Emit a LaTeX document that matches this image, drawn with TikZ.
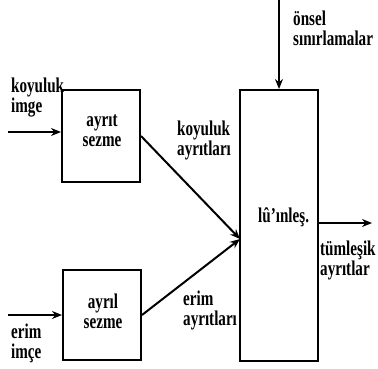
\documentclass[tikz,border=0pt]{standalone}
\usepackage{fontspec}
\setmainfont[FakeStretch=0.72,UprightFont=* Bold]{Liberation Serif}
\usetikzlibrary{arrows.meta}
\tikzset{
  blk/.style={draw, line width=2pt, inner sep=0pt},
  lbl/.style={anchor=base west, inner sep=0pt, align=left,
              font=\fontsize{21}{20}\selectfont},
  ctr/.style={inner sep=0pt, align=center, font=\fontsize{21}{20}\selectfont},
  wire/.style={line width=2pt, -{Stealth[length=10pt,width=8pt]}},
}
\begin{document}
\begin{tikzpicture}[x=1pt,y=-1pt]
\useasboundingbox (0,0) rectangle (378,368);
% blocks
\node[blk, minimum width=78pt, minimum height=92pt] (b1) at (101,136) {};
\node[blk, minimum width=78pt, minimum height=90pt] (b2) at (102,315) {};
\node[blk, minimum width=78pt, minimum height=271pt] (big) at (279,225.5) {};
% block texts
\node[ctr] (t1) at (102,131) {ayrıt\\sezme};
\node[ctr] (t2) at (103,311) {ayrıl\\sezme};
\node[lbl] (t3) at (258,222) {lû'ınleş.};
% free ends of the connectors
\coordinate (in1) at (8,132);
\coordinate (in2) at (8,315);
\coordinate (top) at (279,0);
\coordinate (out) at (372,223);
\coordinate (join) at (240,239);
% connectors
\draw[wire] (in1) -- (in1 -| b1.west);
\draw[wire] (in2) -- (in2 -| b2.west);
\draw[wire] (top) -- (big.north);
\draw[wire] (out -| big.east) -- (out);
\draw[wire] (b1.east) -- (join);
\draw[wire] (b2.east) -- (join);
% labels (anchored at the baseline of the last line)
\node[lbl] (l1) at (11,112) {koyuluk\\imge};
\node[lbl] (l2) at (11,358) {erim\\imçe};
\node[lbl] (l3) at (177,155) {koyuluk\\ayrıtları};
\node[lbl] (l4) at (183,325) {erim\\ayrıtları};
\node[lbl] (l5) at (293,45) {önsel\\sınırlamalar};
\node[lbl] (l6) at (320,275) {tümleşik\\ayrıtlar};
\end{tikzpicture}
\end{document}
